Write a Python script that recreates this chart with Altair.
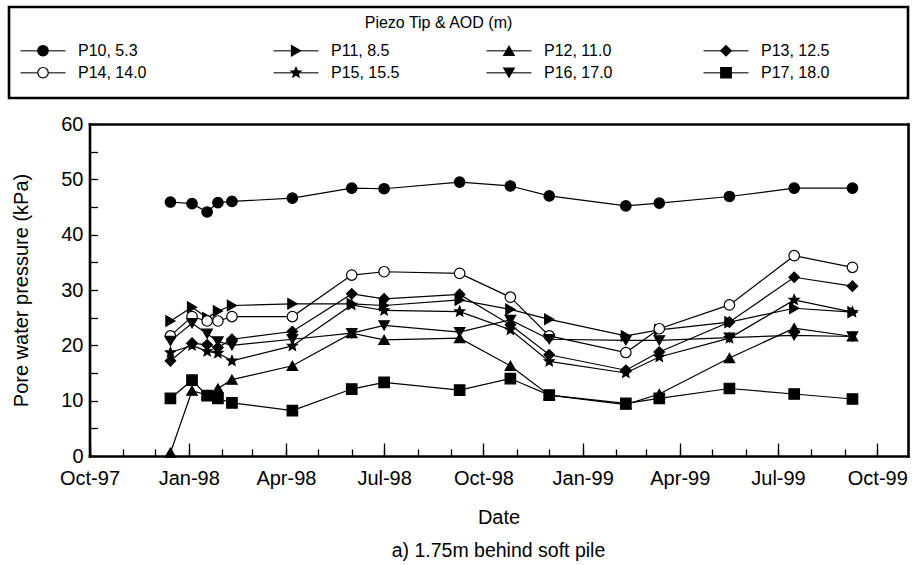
import altair as alt
import pandas as pd

# ---------------- data ----------------
dates = ["1997-12-15", "1998-01-04", "1998-01-18", "1998-01-28", "1998-02-10",
         "1998-04-07", "1998-06-01", "1998-07-01", "1998-09-09", "1998-10-26",
         "1998-12-01", "1999-02-10", "1999-03-13", "1999-05-17", "1999-07-16",
         "1999-09-08"]

series_names = ["P10, 5.3", "P11, 8.5", "P12, 11.0", "P13, 12.5",
                "P14, 14.0", "P15, 15.5", "P16, 17.0", "P17, 18.0"]

p10 = [45.9, 45.6, 44.1, 45.8, 46.0, 46.6, 48.4, 48.3, 49.5, 48.8, 47.0, 45.2, 45.7, 46.9, 48.4, 48.4]
p11 = [24.4, 26.9, 25.0, 26.2, 27.2, 27.5, 27.5, 27.2, 28.2, 26.5, 24.7, 21.7, 22.8, 24.2, 26.7, 26.0]
p12 = [0.6, 11.8, 11.0, 12.2, 13.8, 16.3, 22.2, 21.0, 21.3, 16.3, 11.0, 9.3, 11.2, 17.7, 23.1, 21.6]
p13 = [17.2, 20.4, 20.1, 19.6, 21.1, 22.5, 29.3, 28.4, 29.2, 23.7, 18.3, 15.5, 18.8, 24.2, 32.3, 30.7]
p14 = [21.7, 25.2, 24.4, 24.4, 25.2, 25.2, 32.7, 33.3, 33.0, 28.7, 21.7, 18.7, 23.0, 27.3, 36.2, 34.1]
p15 = [18.7, 20.0, 18.9, 18.6, 17.2, 19.9, 27.3, 26.3, 26.1, 22.8, 17.1, 15.0, 17.9, 21.3, 28.2, 26.0]
p16 = [20.8, 24.0, 22.1, 20.7, 20.0, 21.1, 22.2, 23.6, 22.4, 24.6, 21.1, 20.9, 20.9, 21.4, 21.8, 21.6]
p17 = [10.4, 13.7, 10.9, 10.4, 9.6, 8.2, 12.1, 13.3, 11.9, 14.0, 11.0, 9.5, 10.4, 12.2, 11.2, 10.3]

all_values = [p10, p11, p12, p13, p14, p15, p16, p17]

legend_title = "Piezo Tip & AOD (m)"
y_title = "Pore water pressure (kPa)"
x_title = "Date"
caption = "a) 1.75m behind soft pile"

# ---------------- styles ----------------
STAR = ("M0,-1 L0.26,-0.36 L0.95,-0.31 L0.42,0.14 L0.59,0.81 L0,0.44 "
        "L-0.59,0.81 L-0.42,0.14 L-0.95,-0.31 L-0.26,-0.36 Z")
shapes = ["circle", "triangle-right", "triangle-up", "diamond",
          "circle", STAR, "triangle-down", "square"]
fills = ["black", "black", "black", "black", "white", "black", "black", "black"]
sizes = [110, 110, 140, 130, 145, 150, 140, 75]

FONT = "Liberation Sans"
FRAME_W = 2.6

rows = []
for name, vals in zip(series_names, all_values):
    for d, v in zip(dates, vals):
        rows.append({"series": name, "date": d + "T00:00:00", "value": v})
df = pd.DataFrame(rows)

shape_enc = alt.Shape("series:N", scale=alt.Scale(domain=series_names, range=shapes), legend=None)
fill_enc = alt.Fill("series:N", scale=alt.Scale(domain=series_names, range=fills), legend=None)
size_enc = alt.Size("series:N", scale=alt.Scale(domain=series_names, range=sizes), legend=None)

PLOT_L, PLOT_R = 80.5, 898.5   # plot rectangle inside the 899-px wide panel
x_scale = alt.Scale(domain=[alt.DateTime(year=1997, month=10, date=1),
                            alt.DateTime(year=1999, month=10, date=29)],
                    range=[PLOT_L, PLOT_R], nice=False)
y_scale = alt.Scale(domain=[0, 60], nice=False)

major_vals = [alt.DateTime(year=y, month=m, date=1)
              for (y, m) in [(1997, 10), (1998, 1), (1998, 4), (1998, 7), (1998, 10),
                             (1999, 1), (1999, 4), (1999, 7), (1999, 10)]]
minor_vals = []
for y in (1997, 1998, 1999):
    for m in range(1, 13):
        if (1997, 10) <= (y, m) <= (1999, 10):
            minor_vals.append(alt.DateTime(year=y, month=m, date=1))

frame_kw = dict(ticks=False, labels=False, title=None, domain=True, domainColor="black",
                domainWidth=FRAME_W, domainCap="square", grid=False)

x_major_axis = alt.Axis(values=major_vals, format="%b-%y", orient="bottom", title=x_title,
                        offset=-13, tickSize=13, labelPadding=12, labelFlush=False,
                        labelOverlap=False, titlePadding=19, domain=False)
x_minor_axis = alt.Axis(values=minor_vals, orient="bottom", labels=False, title=None,
                        offset=-7, tickSize=7, domain=False)
x_frame_bottom = alt.Axis(orient="bottom", **frame_kw)
x_frame_top = alt.Axis(orient="top", **frame_kw)

y_label_axis = alt.Axis(orient="left", values=list(range(0, 65, 5)), title=y_title,
                        labelExpr="datum.value % 10 === 0 ? datum.label : ''",
                        offset=-(PLOT_L + 8), tickSize=8, labelPadding=6.5,
                        titlePadding=29, domain=False)
y_frame_left = alt.Axis(orient="left", offset=-PLOT_L, **frame_kw)
y_frame_right = alt.Axis(orient="right", **frame_kw)

base = alt.Chart(df)
lines = base.mark_line(color="black", strokeWidth=1.2).encode(
    x=alt.X("date:T", scale=x_scale, axis=x_minor_axis),
    y=alt.Y("value:Q", scale=y_scale, axis=y_frame_left),
    detail="series:N",
)
points = base.mark_point(stroke="black", strokeWidth=1.2, opacity=1, fillOpacity=1).encode(
    x=alt.X("date:T", scale=x_scale, axis=x_major_axis),
    y=alt.Y("value:Q", scale=y_scale, axis=y_label_axis),
    shape=shape_enc, fill=fill_enc, size=size_enc,
)
frame_a = base.mark_point(opacity=0).encode(
    x=alt.X("date:T", scale=x_scale, axis=x_frame_bottom),
    y=alt.Y("value:Q", scale=y_scale, axis=y_frame_right),
)
frame_b = base.mark_point(opacity=0).encode(
    x=alt.X("date:T", scale=x_scale, axis=x_frame_top),
    y=alt.Y("value:Q", scale=y_scale, axis=None),
)
main = alt.layer(lines, points, frame_a, frame_b).resolve_axis(
    x="independent", y="independent"
).properties(
    width=899, height=332,
    title=alt.TitleParams(caption, orient="bottom", anchor="middle", fontSize=19.5,
                          fontWeight="normal", font=FONT, offset=15, dx=40),
)

# ---------------- legend panel ----------------
leg_df = pd.DataFrame({
    "series": series_names,
    "col": [i % 4 for i in range(len(series_names))],
    "row": [i // 4 for i in range(len(series_names))],
})
lx = alt.X("col:Q", scale=alt.Scale(domain=[0, 1, 2, 3], range=[34, 287, 500, 717],
                                    nice=False, zero=False), axis=None)
ly = alt.Y("row:Q", scale=alt.Scale(domain=[-1.99, 2.15], nice=False, zero=False, reverse=True), axis=None)
leg_base = alt.Chart(leg_df)
leg_lines = leg_base.mark_tick(orient="horizontal", size=45, thickness=1.4, color="black").encode(x=lx, y=ly)
leg_pts = leg_base.mark_point(stroke="black", strokeWidth=1.2, opacity=1, fillOpacity=1).encode(
    x=lx, y=ly, shape=shape_enc, fill=fill_enc, size=size_enc)
leg_txt = leg_base.mark_text(align="left", baseline="middle", dx=35, fontSize=16, font=FONT,
                             color="black").encode(x=lx, y=ly, text="series:N")
legend = alt.layer(leg_lines, leg_pts, leg_txt).properties(
    width=899, height=91,
    view=alt.ViewBackground(stroke="black", strokeWidth=FRAME_W, strokeOpacity=1),
    title=alt.TitleParams(legend_title, orient="top", anchor="middle", fontSize=16,
                          fontWeight="normal", font=FONT, offset=-24, dx=-20),
)

chart = alt.concat(legend, main, columns=1, spacing=13).properties(
    padding={"left": 7, "top": 5, "right": 0, "bottom": 0}
).configure(font=FONT).configure_view(
    stroke="transparent"
).configure_axis(
    grid=False, labelColor="black", titleColor="black", tickColor="black",
    tickWidth=1.3, labelFont=FONT, titleFont=FONT, labelFontSize=20, titleFontSize=20,
    titleFontWeight="normal"
).configure_title(color="black")

chart.save("out.html", embed_options={"renderer": "svg", "actions": False})
